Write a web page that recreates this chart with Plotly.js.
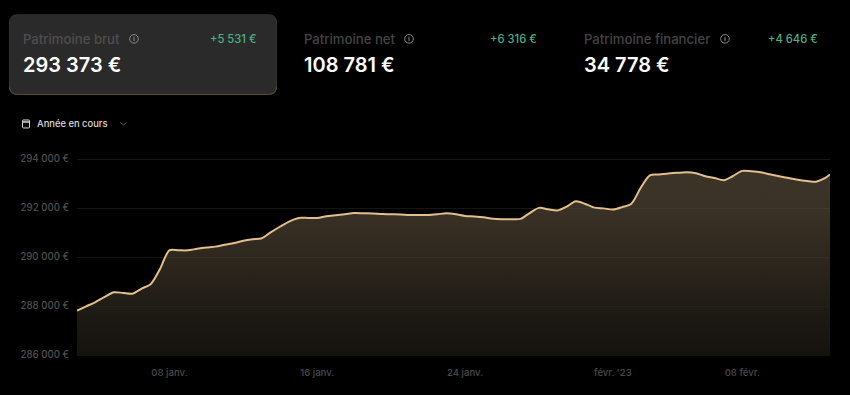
<!DOCTYPE html>
<html><head><meta charset="utf-8">
<script src="https://cdn.plot.ly/plotly-3.0.1.min.js"></script>
<style>html,body{margin:0;padding:0;background:#000;overflow:hidden}#c{width:850px;height:395px}</style>
</head><body><div id="c"></div>
<script>
const startDate = "2023-01-03";
const lastPointDate = "2023-02-12 18:00";
const values = [287850,288026,288200,288410,288600,288570,288540,288750,288940,289560,290310,290310,290310,290370,290420,290460,290540,290610,290700,290760,290800,291050,291280,291490,
291630,291630,291630,291700,291740,291780,291830,291820,291810,291790,291780,291770,291750,291750,291750,291780,291820,291780,291710,291690,291660,291600,291580,291580,291590,291830,292040,291980,
291930,292090,292310,292200,292050,292020,291970,292070,292210,292850,293370,293400,293440,293470,293490,293450,293330,293260,293170,293340,293550,293530,293490,293410,293330,293260,293190,293140,293110,293260,293400];
const yTicks = [286000,288000,290000,292000,294000];
const yTickText = ["286 000 €","288 000 €","290 000 €","292 000 €","294 000 €"];
const xTicks = ["2023-01-08","2023-01-16","2023-01-24","2023-02-01","2023-02-08"];
const xTickText = ["08 janv.","16 janv.","24 janv.","févr. '23","08 févr."];
const cardLabels = ["Patrimoine brut","Patrimoine net","Patrimoine financier"];
const cardValues = ["293 373 €","108 781 €","34 778 €"];
const cardDeltas = ["+5 531 €","+6 316 €","+4 646 €"];
const rangeLabel = "Année en cours";

const W=850,H=395,L=77,R=830,T=150,B=355.7;
const X=p=>(p-L)/(R-L), Y=p=>(B-p)/(B-T);
const dates = values.map((_,i)=> i===values.length-1 ? lastPointDate :
  new Date(Date.parse(startDate+"T00:00:00Z")+i*432e5).toISOString().slice(0,16).replace('T',' '));
const FONT="Inter, 'Noto Sans', sans-serif";

function txt(x,y,text,size,color,anchor,weight){
  return {xref:'paper',yref:'paper',x:X(x),y:Y(y),text,showarrow:false,xanchor:anchor||'left',yanchor:'middle',
    font:{family:FONT,size,color,weight:weight||400},borderpad:0};
}
function pathShape(d,line,fill){
  return {type:'path',xref:'paper',yref:'paper',path:d,layer:'below',line:line,fillcolor:fill||'rgba(0,0,0,0)'};
}
const P=(x,y)=>X(x)+','+Y(y);
function rrect(x0,y0,x1,y1,r){
  return 'M'+P(x0+r,y0)+' L'+P(x1-r,y0)+' Q'+P(x1,y0)+' '+P(x1,y0+r)+' L'+P(x1,y1-r)+' Q'+P(x1,y1)+' '+P(x1-r,y1)+
   ' L'+P(x0+r,y1)+' Q'+P(x0,y1)+' '+P(x0,y1-r)+' L'+P(x0,y0+r)+' Q'+P(x0,y0)+' '+P(x0+r,y0)+' Z';
}
function circle(cx,cy,r,color){
  return {type:'circle',xref:'paper',yref:'paper',x0:X(cx-r),x1:X(cx+r),y0:Y(cy-r),y1:Y(cy+r),layer:'above',line:{color,width:1}};
}
function seg(x0,y0,x1,y1,color,w){
  return {type:'line',xref:'paper',yref:'paper',x0:X(x0),x1:X(x1),y0:Y(y0),y1:Y(y1),layer:'above',line:{color,width:w||1}};
}
const shapes=[], ann=[];
shapes.push(pathShape(rrect(9.5,15,276.5,94.5,8),{color:'#333331',width:1},'#2a2a2a'));
shapes.push(pathShape('M'+P(9.5,86.5)+' Q'+P(9.5,94.5)+' '+P(17.5,94.5)+' L'+P(268.5,94.5)+' Q'+P(276.5,94.5)+' '+P(276.5,86.5),{color:'#5c4c36',width:1}));
const cardX=[22,302.5,583], deltaR=[257,537.5,818.5], infoX=[134,409,725];
const labelCols=['#4e4e4e','#444444','#444444'];
cardLabels.forEach((t,i)=>{
  ann.push(txt(cardX[i],39,t,13.15,labelCols[i],'left',500));
  ann.push(txt(cardX[i],65,cardValues[i],20,'#ffffff','left',600));
  ann.push(txt(deltaR[i],39,cardDeltas[i],11.2,'#4caf87','right',500));
  shapes.push(circle(infoX[i],39,4.3,'#8a8a8a'));
  shapes.push(seg(infoX[i],37,infoX[i],41.2,'#8a8a8a',1));
});
ann.push(txt(35.5,123.5,rangeLabel,9.4,'#dcdcdc','left',500));
shapes.push(pathShape(rrect(22.5,120,29.5,128,1),{color:'#dcdcdc',width:1}));
shapes[shapes.length-1].layer='above';
shapes.push(seg(22.5,122,29.5,122,'#dcdcdc',1.5));
const chev=pathShape('M'+P(120.5,122.5)+' L'+P(123.5,125)+' L'+P(126.5,122.5),{color:'#5a5a5a',width:1});
chev.layer='above';shapes.push(chev);

Plotly.newPlot('c',[{
  x:dates,y:values,type:'scatter',mode:'lines',
  line:{color:'#e2bf8d',width:2,shape:'spline',smoothing:0.8},
  fill:'tozeroy',
  fillgradient:{type:'vertical',start:286000,stop:294000,
    colorscale:[[0,'rgba(30,26,20,0.7)'],[0.25,'rgba(44,39,31,0.7)'],[0.5,'rgba(66,56,43,0.7)'],[0.75,'rgba(83,71,54,0.7)'],[1,'rgba(88,75,58,0.7)']]},
  hoverinfo:'skip'
}],{
  width:W,height:H,paper_bgcolor:'#000',plot_bgcolor:'#000',showlegend:false,
  margin:{l:L,r:W-R,t:T,b:H-B,pad:0},
  font:{family:FONT},
  xaxis:{type:'date',range:[startDate,lastPointDate],tickvals:xTicks,ticktext:xTickText,showgrid:false,zeroline:false,showline:false,
    ticks:'outside',ticklen:7,tickcolor:'rgba(0,0,0,0)',tickfont:{family:FONT,size:9.6,color:'#4a4a4a',weight:500}},
  yaxis:{range:[286000,294400],tickvals:yTicks,ticktext:yTickText,showgrid:true,gridcolor:'#161614',gridwidth:1,zeroline:false,showline:false,
    ticks:'outside',ticklen:5,tickcolor:'rgba(0,0,0,0)',ticklabelshift:-1,tickfont:{family:FONT,size:9.7,color:'#4e4e4e',weight:500}},
  shapes,annotations:ann
},{displayModeBar:false,staticPlot:true});
</script></body></html>
